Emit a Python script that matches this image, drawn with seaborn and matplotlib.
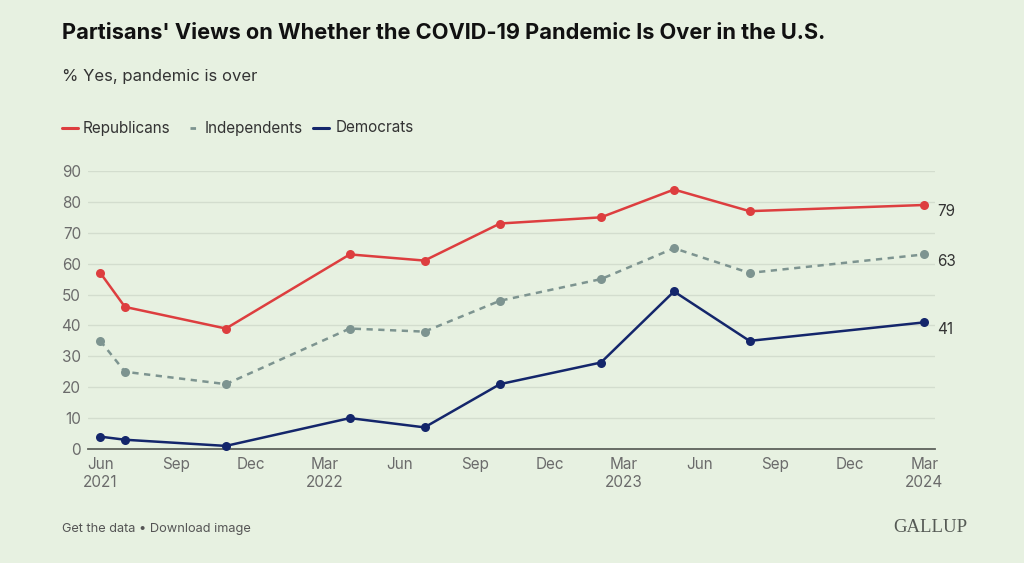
import matplotlib
matplotlib.use("Agg")
import matplotlib.pyplot as plt
import matplotlib.dates as mdates
import pandas as pd
import seaborn as sns

# ---- data ----
survey_dates = ["2021-06-01", "2021-07-01", "2021-11-01", "2022-04-01", "2022-07-01",
                "2022-10-01", "2023-02-01", "2023-05-01", "2023-08-01", "2024-03-01"]
republicans = [57, 46, 39, 63, 61, 73, 75, 84, 77, 79]
independents = [35, 25, 21, 39, 38, 48, 55, 65, 57, 63]
democrats = [4, 3, 1, 10, 7, 21, 28, 51, 35, 41]
series_names = ["Republicans", "Independents", "Democrats"]
tick_dates = ["2021-06-01", "2021-09-01", "2021-12-01", "2022-03-01", "2022-06-01",
              "2022-09-01", "2022-12-01", "2023-03-01", "2023-06-01", "2023-09-01",
              "2023-12-01", "2024-03-01"]
tick_labels = ["Jun\n2021", "Sep", "Dec", "Mar\n2022", "Jun", "Sep", "Dec",
               "Mar\n2023", "Jun", "Sep", "Dec", "Mar\n2024"]
y_ticks = [0, 10, 20, 30, 40, 50, 60, 70, 80, 90]

BG = "#e7f1e1"
colors = {"Republicans": "#dd3e3f", "Independents": "#7d9490", "Democrats": "#14266b"}

sns.set_theme(style="white")
plt.rcParams["font.family"] = ["Inter", "DejaVu Sans"]

dates = pd.to_datetime(survey_dates)
df = pd.DataFrame({
    "date": list(dates) * 3,
    "value": republicans + independents + democrats,
    "party": [s for s in series_names for _ in dates],
})

fig = plt.figure(figsize=(10.24, 5.63), dpi=100, facecolor=BG)
ax = fig.add_axes([88 / 1024, 1 - 449 / 563, (935 - 88) / 1024, (449 - 171) / 563])
ax.set_facecolor(BG)

sns.lineplot(data=df, x="date", y="value", hue="party", style="party",
             palette=colors,
             dashes={"Republicans": "", "Independents": (2.5, 2.2), "Democrats": ""},
             markers={"Republicans": "o", "Independents": "o", "Democrats": "o"},
             markersize=6.5, markeredgewidth=0, linewidth=1.8,
             legend=False, ax=ax, clip_on=False, zorder=3)

ax.set_xlim(pd.Timestamp("2021-05-17"), pd.Timestamp("2024-03-14"))
ax.set_ylim(0, 90)
ax.set_yticks(y_ticks)
ax.set_xticks(pd.to_datetime(tick_dates))
ax.set_xticklabels(tick_labels)
ax.tick_params(axis="both", length=0, labelsize=11, colors="#6b6b6b")
ax.tick_params(axis="x", pad=6)
ax.tick_params(axis="y", pad=5)
ax.set_xlabel("")
ax.set_ylabel("")
ax.grid(axis="y", color="#d3ddce", linewidth=1)
ax.grid(axis="x", visible=False)
for s in ["top", "right", "left"]:
    ax.spines[s].set_visible(False)
ax.spines["bottom"].set_color("#5e625c")
ax.spines["bottom"].set_linewidth(1.3)
ax.set_axisbelow(True)

# end labels
for vals in [republicans, independents, democrats]:
    ax.annotate(str(vals[-1]), xy=(dates[-1], vals[-1]), xytext=(9, -5),
                textcoords="offset points", fontsize=11, color="#333333",
                va="center", ha="left")

# title / subtitle
fig.text(62 / 1024, 1 - 33 / 563, "Partisans' Views on Whether the COVID-19 Pandemic Is Over in the U.S.",
         fontsize=15.7, fontweight="bold", color="#111111", va="center", ha="left")
fig.text(62 / 1024, 1 - 77 / 563, "% Yes, pandemic is over", fontsize=12,
         color="#333333", va="center", ha="left")

# legend
leg_y = 1 - 128 / 563
legend_items = [("Republicans", 62, 78, 83, "-"), ("Independents", 190, 201, 205, "--"),
                ("Democrats", 313, 329, 336, "-")]
for name, x0, x1, xt, ls in legend_items:
    if ls == "-":
        fig.add_artist(plt.Line2D([x0 / 1024, x1 / 1024], [leg_y, leg_y],
                                  color=colors[name], linewidth=2.2, transform=fig.transFigure))
    else:
        fig.add_artist(plt.Line2D([x0 / 1024, x1 / 1024], [leg_y, leg_y],
                                  color=colors[name], linewidth=2.0, linestyle=(0, (2, 2)),
                                  transform=fig.transFigure))
    fig.text(xt / 1024, leg_y, name, fontsize=11, color="#333333", va="center", ha="left")

# footer
fig.text(62 / 1024, 1 - 529 / 563, "Get the data \u2022 Download image", fontsize=9.2,
         color="#555555", va="center", ha="left")
fig.text(967 / 1024, 1 - 527 / 563, "GALLUP", fontsize=13.5, color="#555a55",
         family=["Liberation Serif", "DejaVu Serif"], va="center", ha="right")

fig.savefig("out.png", dpi=100, facecolor=BG)
